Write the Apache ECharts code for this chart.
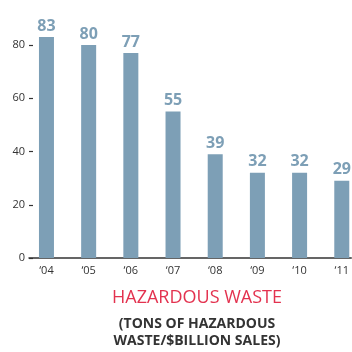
<!DOCTYPE html>
<html>
<head>
<meta charset="utf-8">
<script src="https://cdn.jsdelivr.net/npm/echarts@6/dist/echarts.min.js"></script>
<style>
  html, body { margin: 0; padding: 0; background: #ffffff; }
  #chart { width: 352px; height: 352px; }
</style>
</head>
<body>
<div id="chart"></div>
<script>
// Year labels along the bottom
const years = ['‘04', '‘05', '‘06', '‘07', '‘08', '‘09', '‘10', '‘11'];
// Tons of hazardous waste per $billion sales
const wasteValues = [83, 80, 77, 55, 39, 32, 32, 29];
// Value-axis tick labels
const yTicks = [0, 20, 40, 60, 80];

const barColor = '#7d9fb6';
const inkColor = '#333333';
const fontFamily = '"Open Sans", "Noto Sans", sans-serif';

const chart = echarts.init(document.getElementById('chart'), null, { renderer: 'canvas' });

chart.setOption({
  animation: false,
  backgroundColor: '#ffffff',
  graphic: [
    {
      type: 'text',
      x: 197,
      y: 298,
      style: {
        text: 'HAZARDOUS WASTE',
        align: 'center',
        verticalAlign: 'middle',
        fill: '#e3324f',
        font: 'normal 18px ' + fontFamily
      }
    },
    {
      type: 'text',
      x: 197,
      y: 333,
      style: {
        text: '(TONS OF HAZARDOUS\nWASTE/$BILLION SALES)',
        align: 'center',
        verticalAlign: 'middle',
        lineHeight: 17,
        fill: inkColor,
        font: 'bold 14px ' + fontFamily
      }
    }
  ],
  grid: { left: 29, right: 0, top: 18.4, bottom: 94, containLabel: false },
  xAxis: {
    type: 'value',
    min: -0.414,
    max: 7.224,
    splitLine: { show: false },
    axisLine: { show: true, lineStyle: { color: inkColor, width: 1.5 } },
    axisTick: { show: false },
    axisLabel: {
      customValues: years.map((_, i) => i),
      formatter: (v) => years[Math.round(v)],
      color: inkColor,
      fontSize: 11,
      fontFamily: fontFamily,
      margin: 7
    }
  },
  yAxis: {
    type: 'value',
    min: 0,
    max: 90,
    splitLine: { show: false },
    // invisible spine kept at the grid's left edge; only the short ticks show
    axisLine: { show: true, onZero: false, lineStyle: { color: 'rgba(0,0,0,0)', width: 0 } },
    axisTick: {
      show: true,
      inside: true,
      length: 4,
      customValues: yTicks,
      lineStyle: { color: inkColor, width: 1.2 }
    },
    axisLabel: {
      customValues: yTicks,
      color: inkColor,
      fontSize: 11,
      fontFamily: fontFamily,
      margin: 4
    }
  },
  series: [{
    type: 'bar',
    barWidth: 15,
    data: wasteValues.map((v, i) => [i, v]),
    itemStyle: { color: barColor },
    label: {
      show: true,
      position: 'top',
      distance: 3,
      color: barColor,
      fontSize: 16,
      fontWeight: 'bold',
      fontFamily: fontFamily,
      formatter: (p) => p.value[1]
    }
  }]
});
</script>
</body>
</html>
